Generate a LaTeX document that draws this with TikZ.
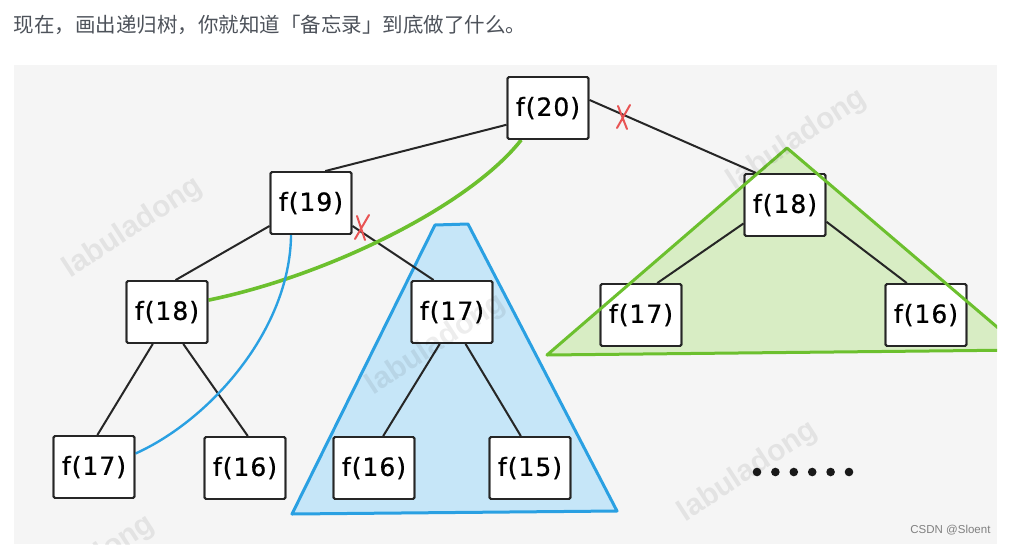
\documentclass[tikz,border=0pt]{standalone}
\usepackage{fontspec}
\usepackage{xcolor}
\usepackage{tikz}
\usetikzlibrary{calc}
\newfontfamily\cjkfont{Noto Sans CJK SC}
\newfontfamily\boxfont[LetterSpace=4,FakeBold=0.8]{DejaVu Sans}
\newfontfamily\markfont{Liberation Sans}
\definecolor{memoblue}{RGB}{42,160,226}
\definecolor{memobluefill}{RGB}{198,230,248}
\definecolor{memogreen}{RGB}{108,192,46}
\definecolor{memogreenfill}{RGB}{216,237,196}
\definecolor{cutred}{RGB}{232,84,84}
\definecolor{paneltone}{RGB}{245,245,245}
\definecolor{headtone}{RGB}{77,82,90}

\begin{document}
\begin{tikzpicture}[x=1pt, y=-1pt,
    call/.style={rectangle, rounded corners=1.5pt, draw=black!85, line width=1.9pt,
                 fill=white, minimum width=81pt, minimum height=62pt, inner sep=0pt,
                 font=\boxfont\fontsize{25}{25}\selectfont},
    link/.style={line width=2pt, black!85},
    cut/.style={cutred, line width=2pt, line cap=round},
    memo/.style={line width=3pt, #1},
    stamp/.style={rotate=33, text=black, text opacity=0.07,
                  font=\markfont\bfseries\fontsize{30}{30}\selectfont},
]
    \useasboundingbox (0,0) rectangle (1009,544);

    % Heading above the panel
    \node[anchor=west, text=headtone, font=\cjkfont\fontsize{20.5}{24}\selectfont] (head)
        at (10,25) {现在，画出递归树，你就知道「备忘录」到底做了什么。};

    % Panel
    \fill[paneltone] (14,65) rectangle (997,544);

    % Memo regions
    \begin{scope}
        \clip (14,65) rectangle (997,544);
        \fill[memogreenfill] (787,148) -- (547,355) -- (1024,350) -- cycle;
    \end{scope}
    \draw[memo=memoblue, fill=memobluefill, line join=round]
        (435,225) -- (468,224) -- (617,511) -- (292,514) -- cycle;

    % Recursion tree
    \node[call] (n20)  at (548,108) {f(20)};
    \node[call] (n19)  at (311,203) {f(19)};
    \node[call] (n18r) at (785,205) {f(18)};
    \node[call] (n18l) at (167,312) {f(18)};
    \node[call] (n17m) at (452,312) {f(17)};
    \node[call] (n17r) at (641,315) {f(17)};
    \node[call] (n16r) at (926,315) {f(16)};
    \node[call] (n17b) at (94,467)  {f(17)};
    \node[call] (n16b) at (245,468) {f(16)};
    \node[call] (n16m) at (374,468) {f(16)};
    \node[call] (n15m) at (530,468) {f(15)};

    % Edges
    \draw[link] (n20.202) -- (n19.66);
    \draw[link] (n20.11) -- (n18r.132);
    \draw[link] (n19.209) -- (n18l.75);
    \draw[link] (n19.331) -- (n17m.120);
    \draw[link] (n18l.246) -- (n17b.84);
    \draw[link] (n18l.297) -- (n16b.85);
    \draw[link] (n17m.249) -- (n16m.74);
    \draw[link] (n17m.293) -- (n15m.106);
    \draw[link] (n18r.204) -- (n17r.63);
    \draw[link] (n18r.338) -- (n16r.121);

    % Cut branches
    \draw[cut] (618,106) -- (627,129) (630,105) -- (617,128);
    \draw[cut] (357,216) -- (365,240) (369,215) -- (355,239);

    % Memo lookups
    \draw[memo=memogreen, line width=3.6pt] (n20.230)
        .. controls (470,205) and (330,275) .. (n18l.16);
    \draw[memo=memoblue, line width=2.4pt] (n19.238)
        .. controls (290,330) and (210,420) .. (n17b.18);

    % Boxes over the lines
    \foreach \n in {n20,n19,n18r,n18l,n17m,n17r,n16r,n17b,n16b,n16m,n15m}
        \node[call, fill=none] at (\n) {};

    \begin{scope}
        \clip (14,65) rectangle (997,544);
        \draw[memo=memogreen, line join=round] (787,148) -- (547,355) -- (1024,350) -- cycle;
        % Watermarks
        \node[stamp] (wm1) at (133,228) {labuladong};
        \node[stamp] (wm2) at (797,140) {labuladong};
        \node[stamp] (wm3) at (436,345) {labuladong};
        \node[stamp] (wm4) at (748,472) {labuladong};
        \node[stamp] (wm5) at (85,566) {labuladong};
    \end{scope}

    % More calls
    \foreach \k in {0,...,5}
        \fill[black!90] (757+18.4*\k,472) circle (4.3);

    \node[anchor=east, text=black!50, font=\markfont\fontsize{11.5}{12}\selectfont] (sign)
        at (994,530) {CSDN @Sloent};
\end{tikzpicture}
\end{document}
